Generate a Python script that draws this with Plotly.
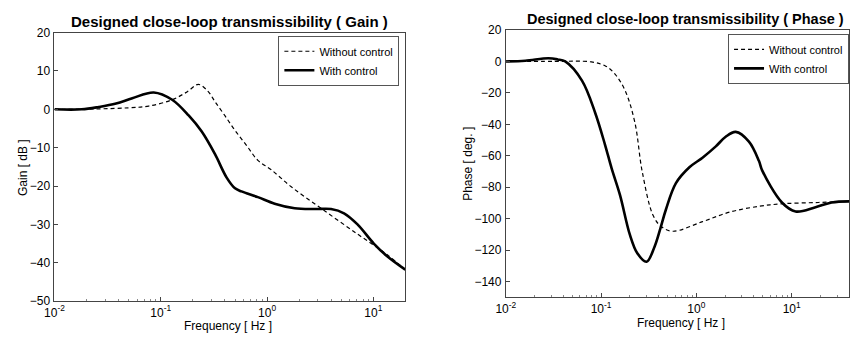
import plotly.graph_objects as go

# ---- Gain plot data (frequency in Hz, gain in dB) ----
gain_ctrl_f = [0.01, 0.018, 0.026, 0.038, 0.054, 0.086, 0.128, 0.183, 0.243, 0.324, 0.417, 0.50, 0.575,
               0.82, 1.18, 1.82, 2.8, 4.0, 5.3, 7.1, 10.1, 13.5, 20]
gain_ctrl_db = [0, 0, 0.6, 1.5, 2.9, 4.4, 2.5, -1.6, -5.8, -11.7, -17.8, -20.6, -21.4,
                -22.9, -24.6, -25.8, -26.0, -26.0, -27.1, -30.0, -35.0, -38.3, -41.8]
gain_noctrl_f = [0.01, 0.025, 0.05, 0.077, 0.128, 0.178, 0.226, 0.28, 0.324, 0.40, 0.50, 0.645,
                 0.82, 1.10, 1.69, 3.22, 7.08, 13.5, 20]
gain_noctrl_db = [0, 0.1, 0.4, 0.85, 2.5, 4.6, 6.5, 4.6, 2.0, -1.6, -5.5, -9.5,
                  -13.3, -15.8, -20.2, -25.8, -32.5, -37.9, -41.8]

# ---- Phase plot data (frequency in Hz, phase in deg) ----
phase_ctrl_f = [0.01, 0.016, 0.028, 0.035, 0.042, 0.063, 0.0866, 0.110, 0.129, 0.158, 0.20, 0.24, 0.30,
                0.363, 0.42, 0.48, 0.61, 0.845, 1.16, 1.60, 2.03, 2.59, 3.56, 4.53, 4.9, 7.9, 11, 17.8, 26.3, 40]
phase_ctrl_deg = [0, 0.5, 2, 1.3, 0, -12.2, -32.6, -53, -68, -85, -110, -122, -127.4,
                  -118, -106, -94, -77.4, -67.3, -61.2, -54, -47.9, -44.8, -51, -63.2, -69.3, -89.7, -95.4,
                  -92.7, -89.7, -89]
phase_noctrl_f = [0.01, 0.032, 0.079, 0.112, 0.14, 0.178, 0.226, 0.27, 0.351, 0.427, 0.566, 1.16, 2.24,
                  4.57, 8.1, 19, 40]
phase_noctrl_deg = [0, 0, -0.3, -3, -8.1, -18.3, -38.7, -70, -97.9, -105, -108, -101.9, -95.8,
                    -92.1, -90.5, -89.7, -89]

x_tickvals = [0.01, 0.1, 1, 10]
x_ticktext = ["10<sup>-2</sup>", "10<sup>-1</sup>", "10<sup>0</sup>", "10<sup>1</sup>"]
minor_vals = [m * d for d in [0.01, 0.1, 1, 10] for m in range(2, 10)]
gain_ticks = [-50, -40, -30, -20, -10, 0, 10, 20]
phase_ticks = [-140, -120, -100, -80, -60, -40, -20, 0, 20]

FONT = "Liberation Sans, Arial, sans-serif"
dash_style = "4px,3px"

fig = go.Figure()
fig.add_trace(go.Scatter(x=gain_noctrl_f, y=gain_noctrl_db, mode="lines", name="Without control",
                         line=dict(color="black", width=1.2, dash=dash_style, shape="spline"),
                         xaxis="x", yaxis="y", legend="legend"))
fig.add_trace(go.Scatter(x=gain_ctrl_f, y=gain_ctrl_db, mode="lines", name="With control",
                         line=dict(color="black", width=2.6, shape="spline"),
                         xaxis="x", yaxis="y", legend="legend"))
fig.add_trace(go.Scatter(x=phase_noctrl_f, y=phase_noctrl_deg, mode="lines", name="Without control",
                         line=dict(color="black", width=1.2, dash=dash_style, shape="spline"),
                         xaxis="x2", yaxis="y2", legend="legend2"))
fig.add_trace(go.Scatter(x=phase_ctrl_f, y=phase_ctrl_deg, mode="lines", name="With control",
                         line=dict(color="black", width=2.6, shape="spline"),
                         xaxis="x2", yaxis="y2", legend="legend2"))

W, H = 852, 341
def px_x(p):
    return p / W
def px_y(p):
    return 1 - p / H

xcommon = dict(type="log", showgrid=False, zeroline=False, showline=True, linecolor="#444",
               linewidth=1, mirror=True, ticks="inside", ticklen=4, tickcolor="#444",
               tickvals=x_tickvals, ticktext=x_ticktext,
               tickfont=dict(family=FONT, size=12, color="black"),
               minor=dict(tickvals=minor_vals, ticks="inside", ticklen=2, tickcolor="#888"))
ycommon = dict(showgrid=False, zeroline=False, showline=True, linecolor="#444", linewidth=1,
               mirror=True, ticks="inside", ticklen=4, tickcolor="#444", ticklabelstandoff=1,
               tickfont=dict(family=FONT, size=12, color="black"))

legend_common = dict(xanchor="right", yanchor="top", bgcolor="white",
                     bordercolor="#555", borderwidth=1, font=dict(family=FONT, size=11),
                     itemwidth=30, tracegroupgap=0)

fig.update_layout(
    width=W, height=H,
    margin=dict(l=0, r=0, t=0, b=0),
    paper_bgcolor="white", plot_bgcolor="white",
    font=dict(family=FONT, size=12, color="black"),
    xaxis=dict(xcommon, domain=[px_x(45), px_x(400)], range=[-2, 1.30103], anchor="y"),
    yaxis=dict(ycommon, domain=[px_y(306.7), px_y(26.7)], range=[-50, 20], tickvals=gain_ticks, anchor="x"),
    xaxis2=dict(xcommon, domain=[px_x(501.7), px_x(849)], range=[-2, 1.60206], anchor="y2"),
    yaxis2=dict(ycommon, domain=[px_y(302.7), px_y(24)], range=[-150, 20], tickvals=phase_ticks, anchor="x2"),
    legend=dict(legend_common, x=px_x(394), y=px_y(30)),
    legend2=dict(legend_common, x=px_x(849), y=px_y(28)),
    showlegend=True,
)

annos = [
    dict(text="<b>Designed close-loop transmissibility ( Gain )</b>", x=px_x(222), y=px_y(15),
         font=dict(family=FONT, size=15)),
    dict(text="<b>Designed close-loop transmissibility ( Phase )</b>", x=px_x(684), y=px_y(12),
         font=dict(family=FONT, size=14.5)),
    dict(text="Frequency [ Hz ]", x=px_x(221), y=px_y(333), font=dict(family=FONT, size=12)),
    dict(text="Frequency [ Hz ]", x=px_x(679), y=px_y(330), font=dict(family=FONT, size=12)),
    dict(text="Gain [ dB ]", x=px_x(13), y=px_y(167), textangle=-90, font=dict(family=FONT, size=12)),
    dict(text="Phase [ deg. ]", x=px_x(464), y=px_y(164), textangle=-90, font=dict(family=FONT, size=12)),
]
for a in annos:
    fig.add_annotation(xref="paper", yref="paper", showarrow=False, xanchor="center", yanchor="middle", **a)

fig.write_html("out.html")
